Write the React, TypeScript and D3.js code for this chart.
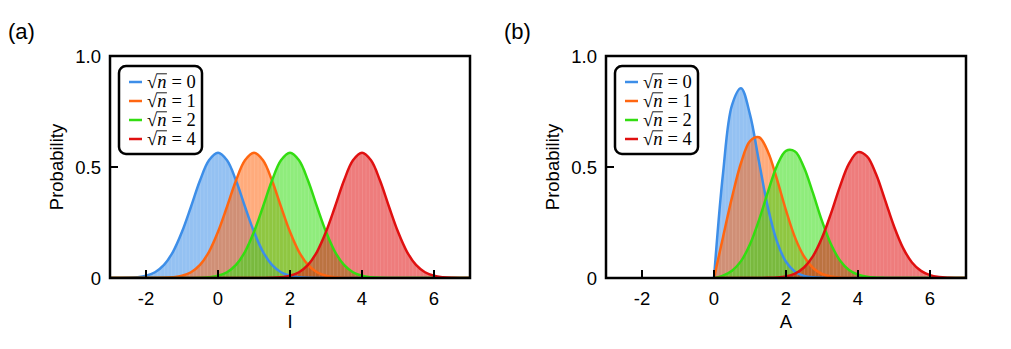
import React, { useRef, useEffect } from 'react';
import * as d3 from 'd3';

// sample grid for panel (a), intensity I
const gridI = [
  -3, -2.75, -2.5, -2.25, -2, -1.75, -1.5, -1.25, -1, -0.75, -0.5, -0.25, 0, 0.25, 0.5, 0.75, 1, 1.25, 1.5, 1.75,
  2, 2.25, 2.5, 2.75, 3, 3.25, 3.5, 3.75, 4, 4.25, 4.5, 4.75, 5, 5.25, 5.5, 5.75, 6, 6.25, 6.5, 6.75, 7,
];
// sample grid for panel (b), amplitude A
const gridA = [
  0, 0.25, 0.5, 0.75, 1, 1.25, 1.5, 1.75, 2, 2.25, 2.5, 2.75, 3, 3.25, 3.5, 3.75, 4, 4.25, 4.5, 4.75, 5, 5.25, 5.5,
  5.75, 6, 6.25, 6.5, 6.75, 7,
];

// panel (a) probabilities
const probI0 = [
  0.0001, 0.0003, 0.0011, 0.0036, 0.01, 0.026, 0.059, 0.118, 0.208, 0.321, 0.439, 0.53, 0.564, 0.53, 0.439, 0.321,
  0.208, 0.118, 0.059, 0.026, 0.01, 0.0036, 0.0011, 0.0003, 0.0001, 0, 0, 0, 0, 0, 0, 0, 0, 0, 0, 0, 0, 0, 0, 0, 0,
];
const probI1 = [
  0, 0, 0, 0, 0.0001, 0.0003, 0.0011, 0.0036, 0.01, 0.026, 0.059, 0.118, 0.208, 0.321, 0.439, 0.53, 0.564, 0.53,
  0.439, 0.321, 0.208, 0.118, 0.059, 0.026, 0.01, 0.0036, 0.0011, 0.0003, 0.0001, 0, 0, 0, 0, 0, 0, 0, 0, 0, 0, 0, 0,
];
const probI2 = [
  0, 0, 0, 0, 0, 0, 0, 0, 0.0001, 0.0003, 0.0011, 0.0036, 0.01, 0.026, 0.059, 0.118, 0.208, 0.321, 0.439, 0.53,
  0.564, 0.53, 0.439, 0.321, 0.208, 0.118, 0.059, 0.026, 0.01, 0.0036, 0.0011, 0.0003, 0.0001, 0, 0, 0, 0, 0, 0, 0, 0,
];
const probI4 = [
  0, 0, 0, 0, 0, 0, 0, 0, 0, 0, 0, 0, 0, 0, 0, 0, 0.0001, 0.0003, 0.0011, 0.0036, 0.01, 0.026, 0.059, 0.118, 0.208,
  0.321, 0.439, 0.53, 0.564, 0.53, 0.439, 0.321, 0.208, 0.118, 0.059, 0.026, 0.01, 0.0036, 0.0011, 0.0003, 0.0001,
];

// panel (b) probabilities
const probA0 = [
  0, 0.47, 0.779, 0.855, 0.736, 0.524, 0.316, 0.164, 0.073, 0.0285, 0.0097, 0.0029, 0.0007, 0.0002, 0, 0, 0, 0, 0, 0,
  0, 0, 0, 0, 0, 0, 0, 0, 0,
];
const probA1 = [
  0, 0.184, 0.363, 0.518, 0.617, 0.634, 0.568, 0.444, 0.305, 0.183, 0.097, 0.045, 0.018, 0.0066, 0.0021, 0.0006,
  0.00015, 0, 0, 0, 0, 0, 0, 0, 0, 0, 0, 0, 0,
];
const probA2 = [
  0, 0.011, 0.033, 0.076, 0.152, 0.261, 0.389, 0.506, 0.573, 0.57, 0.498, 0.382, 0.257, 0.152, 0.079, 0.036, 0.015,
  0.0053, 0.0016, 0.0005, 0.0001, 0, 0, 0, 0, 0, 0, 0, 0,
];
const probA4 = [
  0, 0, 0, 0, 0, 0.0002, 0.0007, 0.0024, 0.0074, 0.0199, 0.0473, 0.0986, 0.181, 0.291, 0.413, 0.515, 0.567, 0.548,
  0.468, 0.352, 0.233, 0.136, 0.07, 0.032, 0.0127, 0.0045, 0.0014, 0.0004, 0.0001,
];

const sqrtN = ['0', '1', '2', '4'];
const colors = ['#3d8ee8', '#ff6611', '#33dd11', '#e01010'];
const xTicks = [-2, 0, 2, 4, 6];
const yTicks = [0, 0.5, 1];
const yTickLabels = ['0', '0.5', '1.0'];

const panels = [
  { tag: '(a)', title: 'I', xs: gridI, series: [probI0, probI1, probI2, probI4], left: 110 },
  { tag: '(b)', title: 'A', xs: gridA, series: [probA0, probA1, probA2, probA4], left: 606 },
];

const App = () => {
  const ref = useRef(null);

  useEffect(() => {
    document.body.style.margin = '0';
    const svg = d3.select(ref.current);
    svg.selectAll('*').remove();

    const top = 56;
    const w = 360;
    const h = 222;
    const sans = 'Liberation Sans, Arial, sans-serif';
    const serif = 'Liberation Serif, Times New Roman, serif';

    // faint vertical stripes, the look of the histogram bins
    const pat = svg
      .append('defs')
      .append('pattern')
      .attr('id', 'bins')
      .attr('patternUnits', 'userSpaceOnUse')
      .attr('width', 3.6)
      .attr('height', 10);
    pat.append('rect').attr('width', 0.7).attr('height', 10).attr('fill', '#fff').attr('fill-opacity', 0.14);

    panels.forEach((p) => {
      const g = svg.append('g').attr('transform', `translate(${p.left},${top})`);
      const x = d3.scaleLinear().domain([-3, 7]).range([0, w]);
      const y = d3.scaleLinear().domain([0, 1]).range([h, 0]);

      g.append('clipPath').attr('id', `clip${p.left}`).append('rect').attr('width', w).attr('height', h);
      const plot = g.append('g').attr('clip-path', `url(#clip${p.left})`);

      const area = d3
        .area()
        .x((d) => x(d[0]))
        .y0(y(0))
        .y1((d) => Math.min(y(0), y(d[1])))
        .curve(d3.curveCatmullRom);
      const line = d3
        .line()
        .x((d) => x(d[0]))
        .y((d) => y(d[1]))
        .curve(d3.curveCatmullRom);

      const pts = p.series.map((s) => p.xs.map((v, i) => [v, s[i]]));

      // filled histograms
      pts.forEach((d, i) => {
        plot.append('path').attr('d', area(d)).attr('fill', colors[i]).attr('fill-opacity', 0.55);
        plot.append('path').attr('d', area(d)).attr('fill', 'url(#bins)');
      });
      // outlines
      pts.forEach((d, i) => {
        plot
          .append('path')
          .attr('d', line(d))
          .attr('fill', 'none')
          .attr('stroke', colors[i])
          .attr('stroke-width', 2.5);
      });

      // frame
      g.append('rect')
        .attr('width', w)
        .attr('height', h)
        .attr('fill', 'none')
        .attr('stroke', '#000')
        .attr('stroke-width', 2.5);

      // inward ticks
      xTicks.forEach((t) => {
        g.append('line')
          .attr('x1', x(t))
          .attr('x2', x(t))
          .attr('y1', h)
          .attr('y2', h - 8)
          .attr('stroke', '#000')
          .attr('stroke-width', 2);
        g.append('text')
          .attr('x', x(t))
          .attr('y', h + 27)
          .attr('text-anchor', 'middle')
          .attr('font-family', sans)
          .attr('font-size', 18.5)
          .text(t);
      });
      yTicks.forEach((t, i) => {
        g.append('line')
          .attr('x1', 0)
          .attr('x2', 8)
          .attr('y1', y(t))
          .attr('y2', y(t))
          .attr('stroke', '#000')
          .attr('stroke-width', 2);
        g.append('text')
          .attr('x', -9)
          .attr('y', y(t))
          .attr('dy', '0.36em')
          .attr('text-anchor', 'end')
          .attr('font-family', sans)
          .attr('font-size', 18.5)
          .text(yTickLabels[i]);
      });

      g.append('text')
        .attr('x', w / 2)
        .attr('y', h + 50)
        .attr('text-anchor', 'middle')
        .attr('font-family', sans)
        .attr('font-size', 18.5)
        .text(p.title);
      g.append('text')
        .attr('transform', `translate(-47,${h / 2}) rotate(-90)`)
        .attr('text-anchor', 'middle')
        .attr('font-family', sans)
        .attr('font-size', 18.5)
        .text('Probability');

      svg
        .append('text')
        .attr('x', p.left - 102)
        .attr('y', 39)
        .attr('font-family', sans)
        .attr('font-size', 22)
        .text(p.tag);

      // legend
      const lg = g.append('g').attr('transform', 'translate(9,10)');
      lg.append('rect')
        .attr('width', 83)
        .attr('height', 88)
        .attr('rx', 7)
        .attr('fill', '#fff')
        .attr('stroke', '#000')
        .attr('stroke-width', 2.5);
      sqrtN.forEach((n, i) => {
        const cy = 16 + i * 19;
        lg.append('line')
          .attr('x1', 10)
          .attr('x2', 23)
          .attr('y1', cy)
          .attr('y2', cy)
          .attr('stroke', colors[i])
          .attr('stroke-width', 2.5);
        const row = lg.append('g').attr('transform', `translate(28,${cy + 6})`);
        const root = row.append('text').attr('font-family', serif).attr('font-size', 18.5).text('\u221A');
        const w1 = root.node().getComputedTextLength();
        const nv = row
          .append('text')
          .attr('x', w1)
          .attr('font-family', serif)
          .attr('font-style', 'italic')
          .attr('font-size', 18.5)
          .text('n');
        const w2 = nv.node().getComputedTextLength();
        row.append('line')
          .attr('x1', w1 - 0.5)
          .attr('x2', w1 + w2 + 0.5)
          .attr('y1', -14.2)
          .attr('y2', -14.2)
          .attr('stroke', '#000')
          .attr('stroke-width', 0.9);
        row.append('text')
          .attr('x', w1 + w2 + 5)
          .attr('font-family', serif)
          .attr('font-size', 18.5)
          .text('=');
        row.append('text')
          .attr('x', w1 + w2 + 20)
          .attr('font-family', serif)
          .attr('font-size', 18.5)
          .text(n);
      });
    });
  }, []);

  return <svg ref={ref} width={1011} height={349} style={{ display: 'block', background: '#fff' }} />;
};

export default App;
